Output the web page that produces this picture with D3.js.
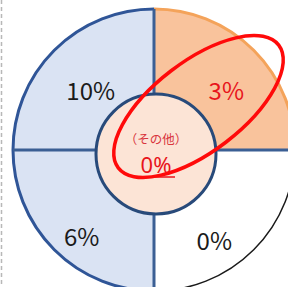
<!DOCTYPE html>
<html>
<head>
<meta charset="utf-8">
<script src="https://cdn.jsdelivr.net/npm/d3@7"></script>
<style>
    html, body { margin: 0; padding: 0; background: #ffffff; }
    #chart svg { display: block; }
    .slice--label { font-family: "Noto Sans CJK JP", "Noto Sans", sans-serif; }
    .hub--share { font-family: "Noto Sans", "DejaVu Sans", sans-serif; }
</style>
</head>
<body>
<div id="chart"></div>
<script>
// quadrants clockwise from 12 o'clock
const quadrants = ["topRight", "bottomRight", "bottomLeft", "topLeft"];
const shares = ["3%", "0%", "6%", "10%"];
const centerCaption = "（その他）";
const centerShare = "0%";

const width = 288;
const height = 287;
const cx = 154;
const cy = 150;
const outerR = 141;
const innerR = 60;

const fillScale = d3.scaleOrdinal()
    .domain(quadrants)
    .range(["#f9c39c", "#ffffff", "#dae3f3", "#dae3f3"]);

const rimScale = d3.scaleOrdinal()
    .domain(quadrants)
    .range(["#f4a35a", "#1a1a1a", "#2f5597", "#2f5597"]);

const textScale = d3.scaleOrdinal()
    .domain(quadrants)
    .range(["#e8141b", "#1a1a1a", "#1a1a1a", "#1a1a1a"]);

// small hand nudges so labels sit where the original has them
const labelNudge = {topRight: [3, 11], bottomRight: [-9, 22], bottomLeft: [-3, 18], topLeft: [6, 11]};

const svg = d3.select("#chart")
    .append("svg")
    .attr("width", width)
    .attr("height", height);

// dashed page edge on the left
svg.append("line")
    .attr("x1", 1.5).attr("x2", 1.5)
    .attr("y1", 0).attr("y2", height)
    .attr("stroke", "#b8b8b8")
    .attr("stroke-width", 1.5)
    .attr("stroke-dasharray", "4,3");

const g = svg.append("g")
    .attr("transform", `translate(${cx},${cy})`);

const pie = d3.pie()
    .value(1)
    .sort(null);

const slices = pie(quadrants.map((q, i) => ({key: q, share: shares[i]})));

const arc = d3.arc()
    .innerRadius(0)
    .outerRadius(outerR);

const labelArc = d3.arc()
    .innerRadius(98)
    .outerRadius(98);

g.selectAll("path.slice")
    .data(slices)
    .enter()
    .append("path")
        .attr("class", "slice")
        .attr("d", arc)
        .attr("fill", d => fillScale(d.data.key));

// outer rims, one colour per quadrant
g.selectAll("path.rim")
    .data(slices)
    .enter()
    .append("path")
        .attr("class", "rim")
        .attr("d", function(d) {
            const p = d3.path();
            p.arc(0, 0, outerR, d.startAngle - Math.PI/2, d.endAngle - Math.PI/2);
            return p.toString();
        })
        .attr("fill", "none")
        .attr("stroke", d => rimScale(d.data.key))
        .attr("stroke-width", d => d.data.key === "bottomRight" ? 1.5 : 3);

// spokes between quadrants
g.selectAll("line.spoke")
    .data(slices)
    .enter()
    .append("line")
        .attr("class", "spoke")
        .attr("x1", 0)
        .attr("y1", 0)
        .attr("x2", d => outerR * Math.sin(d.startAngle))
        .attr("y2", d => -outerR * Math.cos(d.startAngle))
        .attr("stroke", "#3b5f94")
        .attr("stroke-width", 3);

g.selectAll("text.slice--label")
    .data(slices)
    .enter()
    .append("text")
        .attr("class", "slice--label")
        .attr("x", d => labelArc.centroid(d)[0] + labelNudge[d.data.key][0])
        .attr("y", d => labelArc.centroid(d)[1] + labelNudge[d.data.key][1])
        .attr("dy", "0.36em")
        .attr("text-anchor", "middle")
        .attr("font-size", 24)
        .attr("fill", d => textScale(d.data.key))
        .text(d => d.data.share);

// centre disc
const hub = svg.append("g")
    .attr("transform", `translate(${cx + 2},${cy + 4})`);

hub.append("circle")
    .attr("r", innerR)
    .attr("fill", "#fce4d6")
    .attr("stroke", "#284a7a")
    .attr("stroke-width", 3);

hub.append("text")
    .attr("class", "slice--label")
    .attr("y", -10)
    .attr("text-anchor", "middle")
    .attr("font-size", 12.5)
    .attr("fill", "#d9363e")
    .text(centerCaption);

hub.append("text")
    .attr("class", "hub--share")
    .attr("y", 19)
    .attr("text-anchor", "middle")
    .attr("font-size", 22)
    .attr("fill", "#e8141b")
    .text(centerShare);

hub.append("line")
    .attr("x1", -18).attr("x2", 19)
    .attr("y1", 23).attr("y2", 23)
    .attr("stroke", "#e8141b")
    .attr("stroke-width", 1.5);

// red highlight ring
svg.append("ellipse")
    .attr("transform", `translate(198.5,106.5) rotate(-37.4)`)
    .attr("rx", 101)
    .attr("ry", 45)
    .attr("fill", "none")
    .attr("stroke", "#ff0a0a")
    .attr("stroke-width", 3.5);
</script>
</body>
</html>
